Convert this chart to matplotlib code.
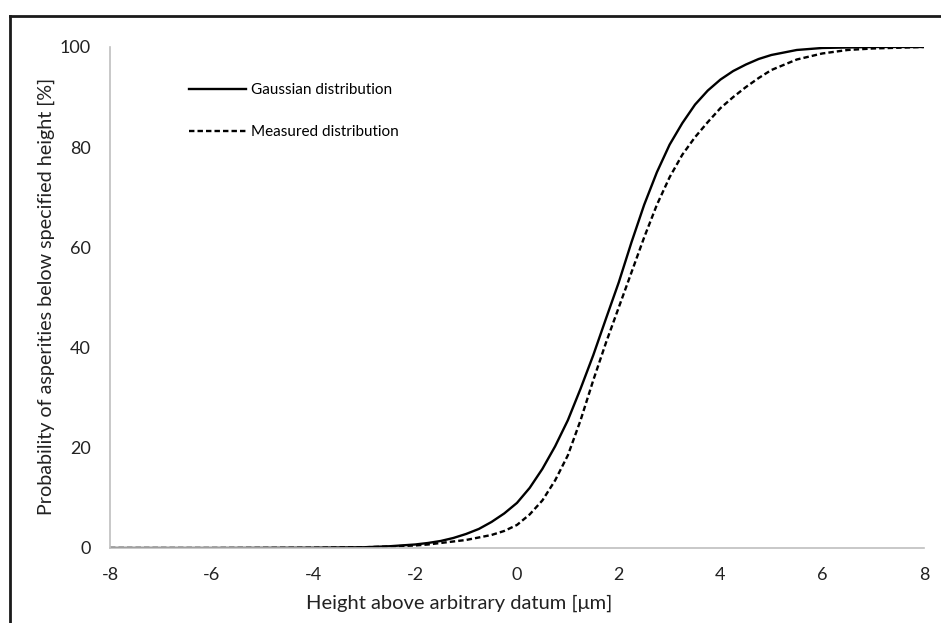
import matplotlib
matplotlib.use("Agg")
import matplotlib.pyplot as plt
from matplotlib.lines import Line2D

# values
height_gauss = [-8, -6, -5, -4, -3, -2.5, -2, -1.75, -1.5, -1.25, -1, -0.75, -0.5, -0.25,
                0, 0.25, 0.5, 0.75, 1, 1.25, 1.5, 1.75, 2, 2.25, 2.5, 2.75, 3, 3.25,
                3.5, 3.75, 4, 4.25, 4.5, 4.75, 5, 5.5, 6, 7, 8]
prob_gauss = [0, 0, 0.02, 0.05, 0.15, 0.35, 0.7, 1.0, 1.4, 2.0, 2.8, 3.8, 5.2, 6.9,
              9.0, 12.0, 15.8, 20.3, 25.5, 31.8, 38.5, 45.8, 53.0, 61.0, 68.5, 75.0, 80.5, 84.8,
              88.5, 91.3, 93.5, 95.2, 96.5, 97.6, 98.4, 99.4, 99.8, 100, 100]

height_meas = [-8, -6, -5, -4, -3, -2.5, -2, -1.75, -1.5, -1.25, -1, -0.75, -0.5, -0.25,
               0, 0.25, 0.5, 0.75, 1, 1.25, 1.5, 1.75, 2, 2.25, 2.5, 2.75, 3, 3.25,
               3.5, 3.75, 4, 4.25, 4.5, 4.75, 5, 5.5, 6, 6.5, 7, 8]
prob_meas = [0, 0, 0.02, 0.05, 0.15, 0.3, 0.5, 0.7, 1.0, 1.3, 1.6, 2.1, 2.6, 3.4,
             4.6, 6.7, 9.5, 13.5, 18.5, 25.5, 33.5, 41.0, 48.0, 55.0, 62.0, 68.5, 74.0, 78.5,
             82.0, 85.0, 87.8, 90.0, 92.0, 93.8, 95.4, 97.5, 98.7, 99.4, 99.7, 100]

x_ticks = [-8, -6, -4, -2, 0, 2, 4, 6, 8]
y_ticks = [0, 20, 40, 60, 80, 100]

plt.rcParams['font.family'] = ['Lato', 'DejaVu Sans']
plt.rcParams['axes.unicode_minus'] = False

fig = plt.figure(figsize=(9.41, 6.23), dpi=100)
ax = fig.add_axes([0.1169, 0.1204, 0.865, 0.8042])

ax.plot(height_gauss, prob_gauss, color='black', lw=1.7, label='Gaussian distribution')
ax.plot(height_meas, prob_meas, color='black', lw=1.7, linestyle=(0, (2.3, 1.3)),
        label='Measured distribution')

ax.set_xlim(-8, 8)
ax.set_ylim(0, 100)
ax.set_xticks(x_ticks)
ax.set_yticks(y_ticks)
ax.tick_params(length=0, labelsize=13, colors='#222222')
ax.tick_params(axis='y', pad=14)
ax.tick_params(axis='x', pad=14)

for side in ['top', 'right']:
    ax.spines[side].set_visible(False)
for side in ['left', 'bottom']:
    ax.spines[side].set_color('#bfbfbf')
    ax.spines[side].set_linewidth(1.2)

ax.set_xlabel('Height above arbitrary datum [μm]', fontsize=14.5, color='#222222')
ax.set_ylabel('Probability of asperities below specified height [%]', fontsize=14.2, color='#222222')
ax.xaxis.set_label_coords(0.429, -0.093)
ax.yaxis.set_label_coords(-0.068, 0.503)

ax.legend(loc='upper left', bbox_to_anchor=(0.09, 0.94), frameon=False, fontsize=11,
          handlelength=3.7, handletextpad=0.35, labelspacing=1.85, borderaxespad=0)

# frame round the figure (top and left edges visible)
fig.add_artist(Line2D([9.5 / 941, 1], [1 - 15.5 / 623, 1 - 15.5 / 623],
                      transform=fig.transFigure, color='#1a1a1a', lw=2))
fig.add_artist(Line2D([9.5 / 941, 9.5 / 941], [0, 1 - 15.5 / 623],
                      transform=fig.transFigure, color='#1a1a1a', lw=2))

fig.savefig('out.png', dpi=100)
